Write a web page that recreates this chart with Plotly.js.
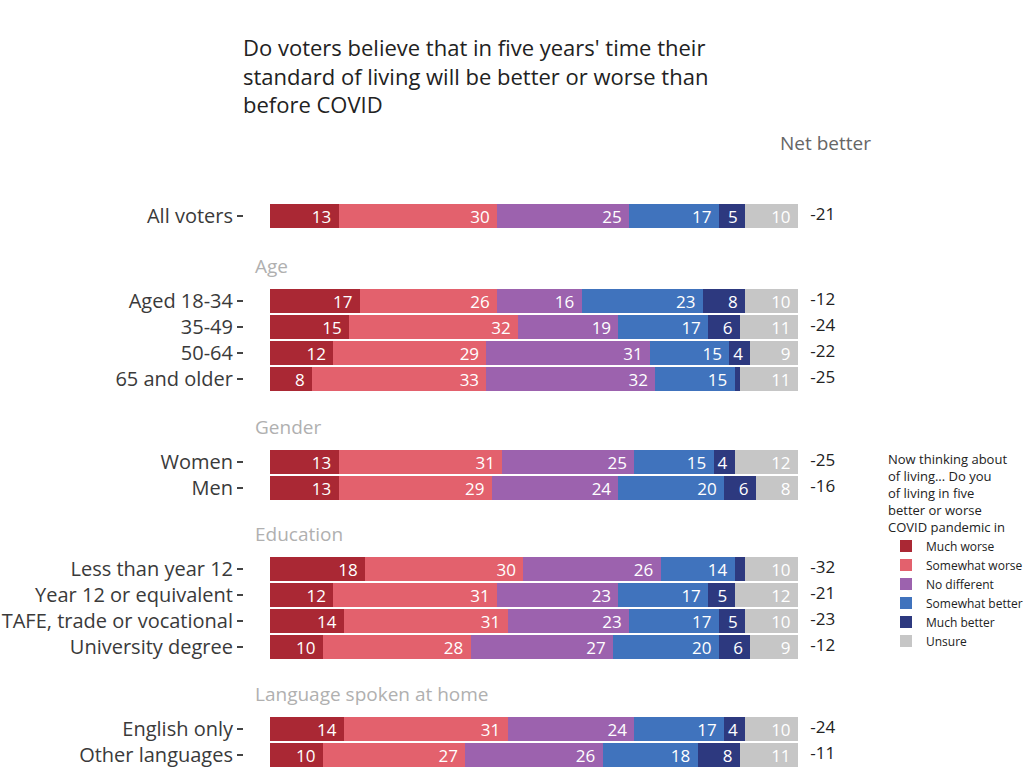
<!DOCTYPE html>
<html>
<head>
<meta charset="utf-8">
<script src="https://cdn.plot.ly/plotly-3.0.1.min.js"></script>
<style>html,body{margin:0;padding:0;background:#fff;overflow:hidden;}#chart{width:1024px;height:768px;}</style>
</head>
<body>
<div id="chart"></div>
<script>
// ---- data ----
const rowLabels = ['All voters','Aged 18-34','35-49','50-64','65 and older','Women','Men',
  'Less than year 12','Year 12 or equivalent','TAFE, trade or vocational','University degree',
  'English only','Other languages'];
const rowGroup = ['All','Age','Age','Age','Age','Gender','Gender',
  'Education','Education','Education','Education',
  'Language spoken at home','Language spoken at home'];
const groupNames = ['All','Age','Gender','Education','Language spoken at home'];
const seriesNames = ['Much worse','Somewhat worse','No different','Somewhat better','Much better','Unsure'];
const muchWorse      = [13,17,15,12, 8,13,13,18,12,14,10,14,10];
const somewhatWorse  = [30,26,32,29,33,31,29,30,31,31,28,31,27];
const noDifferent    = [25,16,19,31,32,25,24,26,23,23,27,24,26];
const somewhatBetter = [17,23,17,15,15,15,20,14,17,17,20,17,18];
const muchBetter     = [ 5, 8, 6, 4, 1, 4, 6, 2, 5, 5, 6, 4, 8];
const unsure         = [10,10,11, 9,11,12, 8,10,12,10, 9,10,11];
const netBetter      = [-21,-12,-24,-22,-25,-25,-16,-32,-21,-23,-12,-24,-11];

// ---- styling / layout ----
const seriesValues = [muchWorse, somewhatWorse, noDifferent, somewhatBetter, muchBetter, unsure];
const colors = ['#AA2834','#E3616D','#9C62AE','#4073BD','#2D397F','#C6C6C6'];
const H = 768;
const rowStep = 26;
const groupTopPx = [203, 288, 449, 556, 716];
const netX = 104.7;
const fontFam = '"Open Sans", Lato, sans-serif';
const pxPerUnit = 5.28;

const traces = [];
const layout = {
  width: 1024, height: 768,
  margin: {l: 244, r: 144, t: 0, b: 0, autoexpand: false},
  paper_bgcolor: '#fff', plot_bgcolor: '#fff',
  barmode: 'stack', bargap: 0.1,
  font: {family: fontFam, color: '#333'},
  showlegend: true,
  title: {
    text: "Do voters believe that in five years' time their<br>standard of living will be better or worse than<br>before COVID",
    font: {size: 22, color: '#222', family: fontFam},
    x: 243/1024, xanchor: 'left', xref: 'container',
    y: 1 - 56/H, yanchor: 'top', yref: 'container'
  },
  xaxis: {range: [-26/pxPerUnit, -26/pxPerUnit + 636/pxPerUnit], visible: false, fixedrange: true},
  legend: {
    x: (886-244)/636, xanchor: 'left', y: 1 - 447/H, yanchor: 'top',
    traceorder: 'normal', bgcolor: 'rgba(0,0,0,0)',
    font: {size: 12, color: '#222', family: fontFam},
    title: {text: "Now thinking about<br>of living... Do you<br>of living in five<br>better or worse<br>COVID pandemic in",
            font: {size: 13, color: '#222', family: fontFam}, side: 'top'},
    itemwidth: 30, tracegroupgap: 0
  },
  annotations: []
};

groupNames.forEach((g, gi) => {
  const idx = rowGroup.map((v, i) => v === g ? i : -1).filter(i => i >= 0);
  const cats = idx.map(i => rowLabels[i]);
  const top = groupTopPx[gi];
  const bottom = top + cats.length * rowStep;
  const yName = gi === 0 ? 'y' : 'y' + (gi + 1);
  const yKey = gi === 0 ? 'yaxis' : 'yaxis' + (gi + 1);
  layout[yKey] = {
    domain: [1 - bottom / H, 1 - top / H],
    anchor: 'x',
    type: 'category',
    categoryorder: 'array', categoryarray: cats,
    autorange: 'reversed',
    ticks: 'outside', ticklen: 6, tickwidth: 1.5, tickcolor: '#444',
    showline: false, showgrid: false, zeroline: false,
    tickfont: {size: 20, color: '#3a3a3a', family: fontFam},
    fixedrange: true
  };
  seriesValues.forEach((vals, si) => {
    const xs = idx.map(i => vals[i]);
    traces.push({
      type: 'bar', orientation: 'h',
      name: seriesNames[si], legendgroup: seriesNames[si],
      showlegend: gi === 0,
      x: xs, y: cats, xaxis: 'x', yaxis: yName,
      marker: {color: colors[si], line: {width: 0}},
      text: xs.map(v => v >= 3 ? String(v) + '\u00a0' : ''),
      textposition: 'inside', insidetextanchor: 'end', textangle: 0,
      constraintext: 'none',
      textfont: {size: 17, color: '#ffffff', family: fontFam},
      hoverinfo: 'x+y+name'
    });
  });
  traces.push({
    type: 'scatter', mode: 'text', showlegend: false,
    x: idx.map(() => netX), y: cats, xaxis: 'x', yaxis: yName,
    text: idx.map(i => String(netBetter[i])),
    textposition: 'middle center',
    textfont: {size: 17, color: '#222', family: fontFam},
    hoverinfo: 'skip', cliponaxis: false
  });
  if (g !== 'All') {
    layout.annotations.push({
      text: g, xref: 'paper', yref: 'paper',
      x: (253-244)/636, xanchor: 'left',
      y: 1 - (top - 22) / H, yanchor: 'middle',
      showarrow: false, font: {size: 19, color: '#b0b0b0', family: fontFam}
    });
  }
});

layout.annotations.push({
  text: 'Net better', xref: 'x', yref: 'paper', x: (825-270)/pxPerUnit, y: 1 - 143/H,
  xanchor: 'center', yanchor: 'middle', showarrow: false,
  font: {size: 19, color: '#666', family: fontFam}
});

Plotly.newPlot('chart', traces, layout, {displayModeBar: false, staticPlot: true});
</script>
</body>
</html>
